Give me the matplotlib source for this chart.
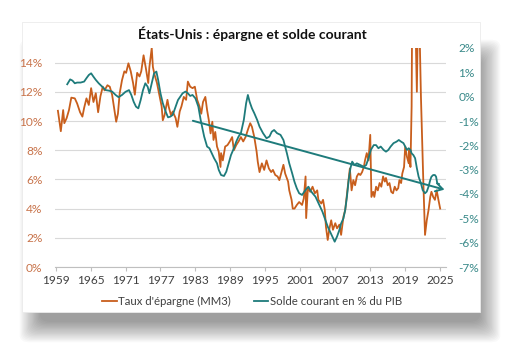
import numpy as np
import matplotlib
matplotlib.use("Agg")
import matplotlib.pyplot as plt
from matplotlib.patches import FancyBboxPatch
from matplotlib.ticker import FuncFormatter

plt.rcParams['font.family'] = ['Lato', 'DejaVu Sans']

# taux d'épargne (MM3), %
sav_years = [1959.4, 1959.9, 1960.3, 1960.5, 1960.9, 1961.3, 1961.7, 1962.3, 1962.7, 1963.2,
             1963.6, 1963.9, 1964.3, 1964.7, 1965.1, 1965.5, 1965.9, 1966.3, 1966.7, 1967.1,
             1967.4, 1967.9, 1968.3, 1968.7, 1969.0, 1969.4, 1969.7, 1970.0, 1970.4, 1970.8,
             1971.1, 1971.5, 1971.9, 1972.3, 1972.6, 1973.0, 1973.4, 1973.7, 1974.1, 1974.5,
             1974.9, 1975.1, 1975.5, 1975.7, 1976.0, 1976.4, 1976.7, 1977.2, 1977.4, 1977.7,
             1978.2, 1978.4, 1978.8, 1979.1, 1979.6, 1979.9, 1980.3, 1980.6, 1981.0, 1981.4,
             1981.7, 1982.1, 1982.5, 1982.9, 1983.3, 1983.7, 1984.0, 1984.3, 1984.7, 1985.0,
             1985.3, 1985.6, 1985.9, 1986.1, 1986.4, 1986.7, 1987.0, 1987.3, 1987.4, 1987.7,
             1988.1, 1988.5, 1988.9, 1989.3, 1989.6, 1990.0, 1990.4, 1990.8, 1991.2, 1991.6,
             1992.0, 1992.4, 1992.7, 1993.1, 1993.5, 1993.7, 1994.0, 1994.4, 1994.8, 1995.2,
             1995.6, 1996.0, 1996.3, 1996.7, 1997.1, 1997.4, 1997.7, 1998.1, 1998.4, 1998.9,
             1999.1, 1999.5, 1999.7, 2000.0, 2000.4, 2000.8, 2001.3, 2001.6, 2001.9, 2002.0,
             2002.3, 2002.7, 2003.1, 2003.5, 2003.9, 2004.1, 2004.6, 2004.9, 2005.2, 2005.4,
             2005.7, 2006.0, 2006.3, 2006.6, 2007.0, 2007.3, 2007.7, 2008.0, 2008.4, 2008.7,
             2009.0, 2009.3, 2009.5, 2009.8, 2010.1, 2010.4, 2010.7, 2011.0, 2011.3, 2011.6,
             2011.9, 2012.1, 2012.4, 2012.7, 2013.0, 2013.2, 2013.5, 2013.7, 2014.0, 2014.3,
             2014.6, 2014.9, 2015.2, 2015.5, 2015.7, 2016.0, 2016.3, 2016.6, 2016.9, 2017.2,
             2017.5, 2017.8, 2018.0, 2018.3, 2018.5, 2018.8, 2019.0, 2019.3, 2019.6, 2019.7,
             2019.9, 2020.1, 2020.3, 2020.5, 2020.8, 2021.0, 2021.2, 2021.35, 2021.5, 2021.7,
             2021.9, 2022.1, 2022.4, 2022.7, 2023.0, 2023.3, 2023.5, 2023.8, 2024.1, 2024.4,
             2024.7, 2025.0]
sav_vals = [10.7, 9.3, 10.75, 9.85, 10.2, 10.75, 11.6, 11.55, 11.2, 10.6,
            10.3, 10.9, 11.55, 11.1, 12.25, 11.3, 11.9, 10.6, 11.7, 12.35,
            12.1, 12.45, 12.35, 11.8, 11.0, 9.95, 10.5, 11.9, 12.8, 13.4,
            13.3, 13.95, 13.4, 12.6, 11.8, 13.3, 13.05, 13.4, 14.5, 13.6,
            12.6, 13.7, 15.0, 13.7, 13.15, 12.6, 12.0, 11.0, 10.05, 10.4,
            11.45, 11.0, 10.4, 10.65, 10.2, 9.6, 10.65, 11.0, 11.65, 11.45,
            12.7, 12.35, 12.25, 12.35, 11.45, 11.0, 10.5, 11.3, 11.65, 10.75,
            10.05, 9.15, 9.95, 8.7, 9.25, 8.25, 7.9, 6.85, 7.8, 7.3,
            8.25, 8.35, 8.6, 8.9, 8.0, 8.35, 8.6, 8.9, 8.6, 8.9,
            9.4, 9.85, 9.6, 8.9, 7.9, 7.2, 6.5, 7.1, 6.65, 7.3,
            6.75, 6.5, 6.65, 6.3, 6.2, 5.95, 6.4, 7.0, 6.4, 5.85,
            5.25, 4.6, 4.0, 4.0, 4.25, 4.45, 4.25, 4.7, 6.2, 3.35,
            5.4, 5.15, 5.5, 5.05, 5.25, 4.6, 4.35, 4.6, 3.9, 2.75,
            1.85, 2.65, 3.2, 2.55, 3.0, 2.65, 2.9, 2.2, 3.45, 3.9,
            4.95, 6.05, 6.75, 5.25, 5.95, 5.6, 6.2, 6.4, 6.3, 6.5,
            6.85, 7.3, 7.8, 7.3, 9.05, 4.8, 5.15, 4.8, 5.5, 5.25,
            5.75, 5.5, 6.2, 5.85, 6.1, 5.6, 5.75, 5.15, 5.05, 5.5,
            5.25, 5.4, 5.95, 5.75, 6.4, 6.85, 8.25, 7.55, 7.1, 8.0,
            6.85, 11.0, 25.0, 22.0, 16.0, 12.0, 18.0, 20.0, 15.5, 11.65,
            8.7, 5.95, 2.2, 3.2, 3.9, 4.8, 5.15, 4.8, 4.6, 5.25,
            4.6, 4.0]

# solde courant en % du PIB
ca_years = [1961.0, 1961.5, 1961.9, 1962.3, 1962.7, 1963.3, 1963.9, 1964.3, 1964.7, 1965.1,
            1965.5, 1965.9, 1966.4, 1967.0, 1967.6, 1968.1, 1968.7, 1969.3, 1969.8, 1970.4,
            1971.0, 1971.6, 1972.0, 1972.4, 1972.8, 1973.2, 1973.6, 1974.0, 1974.4, 1974.8,
            1975.1, 1975.5, 1975.9, 1976.3, 1976.6, 1977.0, 1977.4, 1977.9, 1978.3, 1978.7,
            1979.1, 1979.6, 1980.0, 1980.4, 1980.8, 1981.3, 1981.7, 1982.1, 1982.5, 1983.0,
            1983.5, 1983.9, 1984.5, 1985.0, 1985.4, 1985.8, 1986.2, 1986.7, 1987.0, 1987.4,
            1987.9, 1988.3, 1988.7, 1989.1, 1989.6, 1990.0, 1990.4, 1990.8, 1991.3, 1991.7,
            1992.0, 1992.3, 1992.7, 1993.1, 1993.6, 1994.0, 1994.6, 1995.2, 1995.7, 1996.1,
            1996.5, 1997.0, 1997.6, 1998.1, 1998.4, 1998.7, 1999.1, 1999.6, 2000.0, 2000.4,
            2000.8, 2001.3, 2001.7, 2002.1, 2002.4, 2002.7, 2003.1, 2003.6, 2004.0, 2004.4,
            2004.8, 2005.3, 2005.7, 2006.1, 2006.5, 2006.9, 2007.3, 2007.7, 2008.0, 2008.4,
            2008.7, 2009.0, 2009.3, 2009.6, 2009.9, 2010.3, 2010.7, 2011.3, 2011.9, 2012.3,
            2012.7, 2013.1, 2013.6, 2014.0, 2014.4, 2014.8, 2015.3, 2015.7, 2016.1, 2016.5,
            2017.0, 2017.5, 2017.9, 2018.3, 2018.7, 2019.0, 2019.3, 2019.6, 2019.9, 2020.1,
            2020.4, 2020.7, 2021.0, 2021.3, 2021.7, 2022.0, 2022.4, 2022.7, 2023.0, 2023.3,
            2023.5, 2023.8, 2024.1, 2024.3, 2024.5, 2024.8]
ca_vals = [0.51, 0.71, 0.66, 0.55, 0.58, 0.58, 0.62, 0.76, 0.89, 0.96,
           0.82, 0.69, 0.55, 0.41, 0.27, 0.25, 0.21, 0.07, -0.02, 0.07,
           0.2, 0.27, 0.07, -0.21, -0.41, -0.48, -0.14, 0.27, 0.55, 0.41,
           0.14, 0.55, 0.96, 1.03, 0.69, 0.14, -0.27, -0.62, -0.85, -0.82,
           -0.75, -0.41, -0.14, 0.0, 0.14, 0.21, 0.14, 0.03, 0.07, -0.07,
           -0.41, -0.96, -1.64, -2.05, -2.12, -2.33, -2.53, -2.74, -3.01, -3.22,
           -3.26, -3.08, -2.74, -2.4, -2.12, -1.85, -1.64, -1.5, -0.96, -0.27,
           0.07, -0.21, -0.48, -0.68, -0.96, -1.23, -1.5, -1.71, -1.64, -1.44,
           -1.37, -1.5, -1.57, -1.78, -2.05, -2.33, -2.74, -3.15, -3.5, -3.77,
           -3.97, -4.04, -3.9, -3.77, -3.7, -3.84, -3.97, -4.11, -4.32, -4.52,
           -4.73, -5.07, -5.34, -5.55, -5.75, -5.96, -5.75, -5.48, -5.21, -5.0,
           -4.66, -4.11, -3.42, -2.94, -2.67, -2.81, -2.74, -2.81, -2.88, -2.81,
           -2.53, -2.19, -1.99, -1.99, -2.12, -2.05, -2.19, -2.26, -2.19, -2.05,
           -1.91, -1.85, -1.78, -1.85, -1.91, -2.05, -2.19, -2.12, -2.19, -2.33,
           -2.4, -2.53, -2.94, -3.29, -3.56, -3.84, -3.97, -3.9, -3.7, -3.42,
           -3.29, -3.22, -3.22, -3.29, -3.56, -3.59]

# tendance (flèche) sur le solde courant
trend_years = [1982.1, 2026.2]
trend_vals = [-0.96, -3.85]

xtick_years = list(range(1959, 2026, 6))

orange = "#C85E1C"
teal = "#1E7B7B"

fig = plt.figure(figsize=(5.23, 3.55), dpi=100)
fig.patch.set_facecolor("white")

# ombre de la carte (décalée vers le bas et la droite, floue)
W, H = 523.0, 355.0
for i in range(18):
    pad = i * 1.2
    sh = FancyBboxPatch(((40 - pad) / W, (H - 322 - pad) / H), (440 + 2 * pad) / W, (262 + 2 * pad) / H,
                        boxstyle="round,pad=0,rounding_size=0.02", transform=fig.transFigure,
                        facecolor="black", edgecolor="none", alpha=0.022, zorder=-3)
    fig.patches.append(sh)
card = FancyBboxPatch((22 / W, (H - 312) / H), 458 / W, 290 / H, boxstyle="square,pad=0",
                      transform=fig.transFigure, facecolor="white", edgecolor="#EBEBEB",
                      linewidth=0.6, zorder=-1)
fig.patches.append(card)

ax = fig.add_axes([55 / W, 1 - 267 / H, 391 / W, 219 / H])
ax.set_facecolor("none")
ax2 = ax.twinx()

ax.plot(sav_years, sav_vals, color=orange, lw=1.3, label="Taux d'épargne (MM3)", zorder=3)
ax2.plot(ca_years, ca_vals, color=teal, lw=1.3, label="Solde courant en % du PIB", zorder=3)
ax2.annotate("", xy=(trend_years[1], trend_vals[1]), xytext=(trend_years[0], trend_vals[0]),
             arrowprops=dict(arrowstyle="->,head_length=0.5,head_width=0.3", color=teal, lw=1.4),
             annotation_clip=False)

ax.set_xlim(1958.9, 2026)
ax.set_ylim(0, 15)
ax2.set_ylim(-7, 2)
ax.set_yticks(range(0, 16, 2))
ax2.set_yticks(range(-7, 3))
ax.yaxis.set_major_formatter(FuncFormatter(lambda v, p: "%d%%" % v))
ax2.yaxis.set_major_formatter(FuncFormatter(lambda v, p: "%d%%" % v))
ax.set_xticks(xtick_years)
ax.grid(axis="y", color="#D9D9D9", lw=0.8)
ax.set_axisbelow(True)

for a in (ax, ax2):
    for s in ("top", "left", "right"):
        a.spines[s].set_visible(False)
ax2.spines["bottom"].set_visible(False)
ax.spines["bottom"].set_color("#BFBFBF")
ax.tick_params(axis="x", colors="#404040", labelsize=8.6, length=3, color="#BFBFBF", pad=3)
ax.tick_params(axis="y", colors="#C8734A", labelsize=8.6, length=0, pad=9)
ax2.tick_params(axis="y", colors="#3A8A8A", labelsize=8.6, length=0, pad=9)

fig.text(252 / W, 1 - 34 / H, "États-Unis : épargne et solde courant", ha="center", va="center",
         fontsize=10, fontweight="bold", color="#111111")

h1, l1 = ax.get_legend_handles_labels()
h2, l2 = ax2.get_legend_handles_labels()
fig.legend(h1 + h2, l1 + l2, loc="center", bbox_to_anchor=(252 / W, 1 - 301 / H), ncol=2,
           frameon=False, fontsize=8.2, handlelength=1.3, handletextpad=0.1, columnspacing=2.0,
           labelcolor="#404040")

fig.savefig("out.png", dpi=100)
